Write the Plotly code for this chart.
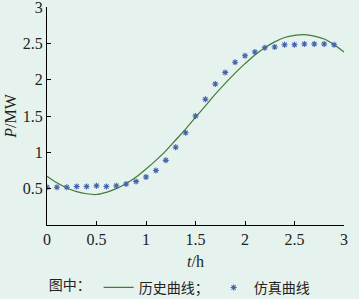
import plotly.graph_objects as go

# historical curve (green line)
hist_t = [0.0, 0.1, 0.2, 0.3, 0.4, 0.5, 0.6, 0.7, 0.8, 0.9, 1.0, 1.1, 1.2, 1.3, 1.4, 1.5,
          1.6, 1.7, 1.8, 1.9, 2.0, 2.1, 2.2, 2.3, 2.4, 2.5, 2.6, 2.7, 2.8, 2.9, 3.0]
hist_p = [0.67, 0.58, 0.51, 0.46, 0.43, 0.42, 0.45, 0.50, 0.57, 0.66, 0.77, 0.89, 1.02, 1.17, 1.32, 1.48,
          1.64, 1.80, 1.95, 2.09, 2.22, 2.34, 2.44, 2.52, 2.58, 2.61, 2.62, 2.60, 2.56, 2.48, 2.38]

# simulated curve (blue stars)
sim_t = [0.0, 0.1, 0.2, 0.3, 0.4, 0.5, 0.6, 0.7, 0.8, 0.9, 1.0, 1.1, 1.2, 1.3, 1.4,
         1.5, 1.6, 1.7, 1.8, 1.9, 2.0, 2.1, 2.2, 2.3, 2.4, 2.5, 2.6, 2.7, 2.8, 2.9]
sim_p = [0.52, 0.52, 0.52, 0.53, 0.53, 0.54, 0.53, 0.54, 0.565, 0.60, 0.66, 0.75, 0.89, 1.07, 1.27,
         1.50, 1.73, 1.94, 2.10, 2.24, 2.33, 2.38, 2.44, 2.45, 2.48, 2.48, 2.49, 2.49, 2.49, 2.48]

x_ticks = [0, 0.5, 1, 1.5, 2, 2.5, 3]
x_labels = ["0", "0.5", "1", "1.5", "2", "2.5", "3"]
y_ticks = [0.5, 1, 1.5, 2, 2.5, 3]
y_labels = ["0.5", "1", "1.5", "2", "2.5", "3"]

BG = "#e6f2ed"
serif = "Liberation Serif"
cjk = "Noto Sans CJK SC"

fig = go.Figure()
fig.add_trace(go.Scatter(
    x=hist_t, y=hist_p, mode="lines", name="历史曲线；",
    line=dict(color="#3f7d38", width=1.2, shape="spline"),
))
fig.add_trace(go.Scatter(
    x=sim_t, y=sim_p, mode="markers", name="仿真曲线",
    marker=dict(symbol="asterisk-open", size=5, color="#4563ad",
                line=dict(color="#4563ad", width=1.1)),
))

fig.update_layout(
    width=359, height=299,
    margin=dict(l=47, r=15, t=7, b=74, autoexpand=False),
    paper_bgcolor=BG, plot_bgcolor=BG,
    font=dict(family=serif, size=16, color="#222222"),
    showlegend=True,
    legend=dict(
        orientation="h", x=0.45, xanchor="center", y=-0.215, yanchor="top",
        bgcolor="rgba(0,0,0,0)",
        font=dict(family=cjk, size=14, color="#222222"),
        title=dict(text="图中：", font=dict(family=cjk, size=14, color="#222222")),
        itemwidth=30, tracegroupgap=0,
    ),
    xaxis=dict(
        range=[0, 3], tickvals=x_ticks, ticktext=x_labels, automargin=False,
        ticklabeloverflow="allow",
        showgrid=False, zeroline=False, showline=True, linecolor="black", linewidth=1,
        ticks="inside", ticklen=4, tickcolor="black",
        title=dict(text="<i>t</i>/h", font=dict(family=serif, size=16), standoff=8),
    ),
    yaxis=dict(
        range=[0, 3], tickvals=y_ticks, ticktext=y_labels, automargin=False,
        ticklabeloverflow="allow",
        showgrid=False, zeroline=False, showline=True, linecolor="black", linewidth=1,
        ticks="inside", ticklen=4, tickcolor="black",
        title=dict(text="<i>P</i>/MW", font=dict(family=serif, size=16), standoff=2),
    ),
)

fig.write_html(
    "out.html",
    config={"displayModeBar": False},
    post_script="document.body.style.margin='0';document.body.style.padding='0';"
                "document.body.style.background='" + BG + "';",
)
